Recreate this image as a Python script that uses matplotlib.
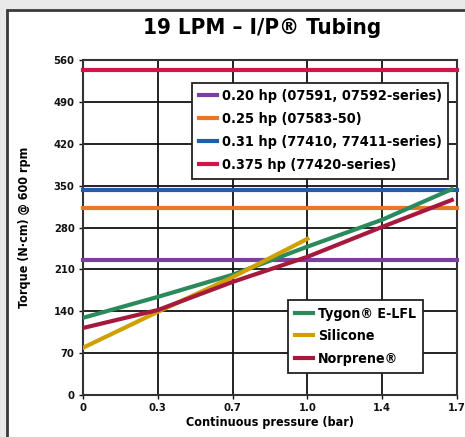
import matplotlib.pyplot as plt
from matplotlib.patches import Rectangle

plt.rcParams['font.family'] = ['DejaVu Sans']
plt.rcParams['font.stretch'] = 'condensed'
plt.rcParams['font.weight'] = 'bold'
plt.rcParams['axes.labelweight'] = 'bold'

# x ticks sit at even steps (psi) but are labelled in bar
x_ticks = [0, 1, 2, 3, 4, 5]
x_labels = ['0', '0.3', '0.7', '1.0', '1.4', '1.7']
y_ticks = [0, 70, 140, 210, 280, 350, 420, 490, 560]

hp_labels = ['0.20 hp (07591, 07592-series)', '0.25 hp (07583-50)',
             '0.31 hp (77410, 77411-series)', '0.375 hp (77420-series)']
hp_values = [225, 312, 342, 543]
hp_colors = ['#7b3fa0', '#e8772a', '#1f5fa6', '#d2144a']

tygon_x = [0, 1, 2, 3, 4, 4.93]
tygon_y = [129, 164, 201, 248, 293, 344]
silicone_x = [0, 1, 2, 3]
silicone_y = [79, 139, 197, 261]
norprene_x = [0, 1, 2, 3, 4, 4.93]
norprene_y = [112, 142, 189, 231, 281, 326]

fig = plt.figure(figsize=(4.65, 4.37), dpi=100)
fig.patch.set_facecolor('#e9e9e9')
panel = Rectangle((7 / 465, -0.05), 1.0, 1.05 - 10 / 437,
                  transform=fig.transFigure, facecolor='white',
                  edgecolor='#3a3a3a', linewidth=2, zorder=-5)
fig.add_artist(panel)

ax = fig.add_axes([83 / 465, 42 / 437, 374 / 465, 335 / 437])
ax.set_zorder(2)
ax.set_xlim(0, 5)
ax.set_ylim(0, 560)

hp_lines = []
for v, c, lab in zip(hp_values, hp_colors, hp_labels):
    ln = ax.axhline(v, color=c, lw=3, label=lab, zorder=3, clip_on=False)
    hp_lines.append(ln)

t, = ax.plot(tygon_x, tygon_y, color='#2a8a5c', lw=3, label='Tygon\u00ae E-LFL', zorder=4)
s, = ax.plot(silicone_x, silicone_y, color='#cfa000', lw=3, label='Silicone', zorder=4)
n, = ax.plot(norprene_x, norprene_y, color='#a5193e', lw=3, label='Norprene\u00ae', zorder=4)

ax.set_xticks(x_ticks)
ax.set_xticklabels(x_labels)
ax.set_yticks(y_ticks)
ax.tick_params(labelsize=8, length=3, width=1, colors='#111111', pad=3)
ax.grid(True, color='#111111', lw=1.3, zorder=1)
for sp in ax.spines.values():
    sp.set_color('#333333')
    sp.set_linewidth(1.5)

ax.set_xlabel('Continuous pressure (bar)', fontsize=9, labelpad=2)
ax.set_ylabel('Torque (N\u00b7cm) @ 600 rpm', fontsize=9, labelpad=16)

leg1 = ax.legend(handles=hp_lines, loc='upper left', bbox_to_anchor=(0.292, 0.932),
                 borderaxespad=0, fontsize=10.4, frameon=True, fancybox=False,
                 edgecolor='#222222', handlelength=1.3, handletextpad=0.3,
                 borderpad=0.45, labelspacing=0.62, framealpha=1)
leg1.get_frame().set_linewidth(1.3)
leg1.set_zorder(6)
ax.add_artist(leg1)

leg2 = ax.legend(handles=[t, s, n], loc='upper left', bbox_to_anchor=(0.548, 0.284),
                 borderaxespad=0, fontsize=10.2, frameon=True, fancybox=False,
                 edgecolor='#222222', handlelength=1.3, handletextpad=0.3,
                 borderpad=0.5, labelspacing=0.6, framealpha=1)
leg2.get_frame().set_linewidth(1.3)
leg2.set_zorder(6)

fig.text(0.563, 0.935, '19 LPM \u2013 I/P\u00ae Tubing', ha='center', va='center',
         fontsize=16, fontweight='bold')

fig.savefig('out.png', dpi=100, facecolor=fig.get_facecolor())
